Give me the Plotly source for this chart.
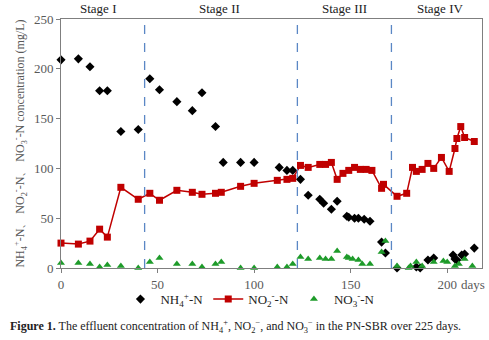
import plotly.graph_objects as go

# Effluent nitrogen species in the PN-SBR (days, mg/L)
nh4_days = [0, 9, 15, 20, 24, 31, 40, 46, 51, 60, 68, 73, 80, 84, 93, 100,
            113, 117, 120, 124, 128, 134, 136, 140, 143, 148, 149, 152, 154, 157, 160,
            166, 168, 174, 184, 186, 190, 193, 203, 204, 205, 207.5, 209, 214]
nh4_vals = [209, 210, 202, 178, 178, 137, 139, 190, 179, 167, 158, 176, 142, 106, 106, 106,
            101, 98, 98, 89, 73, 69, 65, 59, 67, 52, 51, 50, 50, 49, 47,
            26, 15, 0, 1, 0, 8, 10, 13, 9, 8, 13, 14, 20]

no2_days = [0, 9, 15, 20, 24, 31, 40, 46, 51, 60, 68, 73, 80, 83, 93, 100,
            112, 117, 120, 124, 128, 134, 137, 140, 143, 146, 149, 152, 155, 158, 161,
            166, 167, 174, 179, 182, 184, 187, 190, 193, 197, 201, 204, 205, 207, 209, 214]
no2_vals = [25, 24, 27, 39, 31, 81, 69, 75, 68, 78, 76, 74, 75, 76, 82, 85,
            88, 89, 90, 103, 101, 104, 104, 106, 89, 95, 98, 101, 99, 99, 98,
            80, 84, 72, 75, 101, 97, 99, 105, 100, 111, 97, 120, 130, 142, 131, 127]

no3_days = [0, 9, 15, 20, 24, 31, 40, 46, 51, 60, 68, 73, 80, 83, 93, 100,
            112, 117, 120, 124, 128, 134, 137, 140, 143, 148, 149, 151, 154, 156, 160,
            166, 168, 174, 180, 181, 184, 187, 193, 198, 200, 204, 206, 209, 213]
no3_vals = [5, 5, 4, 1, 3, 2, 0, 6, 10, 4, 4, 1, 4, 6, 0, 0,
            1, 1, 4, 11, 9, 10, 9, 9, 17, 11, 10, 9, 8, 4, 4,
            16, 27, 2, 0, 2, 6, 2, 6, 7, 6, 2, 4, 9, 2]

stage_bounds = [43.3, 122.4, 171.1]
stage_names = ["Stage I", "Stage II", "Stage III", "Stage IV"]
stage_centers = [19, 82, 147, 196]

x_ticks = [0, 50, 100, 150, 200]
y_ticks = [0, 50, 100, 150, 200, 250]

SERIF = "Liberation Serif"
GREY = "#595959"

fig = go.Figure()

fig.add_trace(go.Scatter(
    x=nh4_days, y=nh4_vals, mode="markers", name="NH<sub>4</sub><sup>+</sup>-N",
    marker=dict(symbol="diamond", size=7, color="black"),
    cliponaxis=False,
))
fig.add_trace(go.Scatter(
    x=no2_days, y=no2_vals, mode="lines+markers", name="NO<sub>2</sub><sup>-</sup>-N",
    line=dict(color="#C00000", width=1.5),
    marker=dict(symbol="square", size=7, color="#C00000"),
    cliponaxis=False,
))
fig.add_trace(go.Scatter(
    x=no3_days, y=no3_vals, mode="markers", name="NO<sub>3</sub><sup>-</sup>-N",
    marker=dict(symbol="triangle-up", size=7, color="#1E9B2A"),
    cliponaxis=False,
))

for xb in stage_bounds:
    fig.add_shape(type="line", x0=xb, x1=xb, y0=0, y1=1, xref="x", yref="paper",
                  line=dict(color="#5B87C5", width=1.3, dash="dash"))

for name, xc in zip(stage_names, stage_centers):
    fig.add_annotation(x=xc, y=1.0, xref="x", yref="paper", yanchor="bottom",
                       text=name, showarrow=False, yshift=1,
                       font=dict(family=SERIF, size=13, color="#222222"))

fig.add_annotation(x=213.5, y=0, xref="x", yref="paper", yanchor="top",
                   text="days", showarrow=False, yshift=-7,
                   font=dict(family=SERIF, size=13, color=GREY))

fig.add_annotation(
    x=-0.126, y=-0.235, xref="paper", yref="paper", xanchor="left", yanchor="middle",
    text="<b>Figure 1.</b> The effluent concentration of NH<sub>4</sub><sup>+</sup>, "
         "NO<sub>2</sub><sup>\u2212</sup>, and NO<sub>3</sub><sup>\u2212</sup> "
         "in the PN-SBR over 225 days.",
    showarrow=False, font=dict(family=SERIF, size=12, color="#222222"),
)

fig.update_layout(
    width=489, height=340,
    margin=dict(l=61, r=7, t=19, b=72),
    paper_bgcolor="white", plot_bgcolor="white",
    font=dict(family=SERIF, size=13, color=GREY),
    showlegend=True,
    legend=dict(orientation="h", x=0.45, xanchor="center", y=-0.125, yanchor="middle",
                font=dict(family=SERIF, size=13, color="#222222"),
                itemwidth=30, tracegroupgap=0, bgcolor="rgba(0,0,0,0)"),
    xaxis=dict(range=[0, 218], tickvals=[t for t in x_ticks],
               ticktext=[str(t) for t in x_ticks],
               showgrid=False, zeroline=False, showline=True, linecolor="#7F7F7F",
               linewidth=1, mirror=True, ticks="outside", ticklen=4, tickcolor="#7F7F7F",
               tickfont=dict(family=SERIF, size=13, color=GREY)),
    yaxis=dict(range=[0, 250], tickvals=y_ticks,
               showgrid=False, zeroline=False, showline=True, linecolor="#7F7F7F",
               linewidth=1, mirror=True, ticks="outside", ticklen=4, tickcolor="#7F7F7F",
               tickfont=dict(family=SERIF, size=13, color=GREY),
               title=dict(text="NH<sub>4</sub><sup>+</sup>-N\u3001 NO<sub>2</sub><sup>-</sup>-N\u3001 "
                               "NO<sub>3</sub><sup>-</sup>-N concentration (mg/L)",
                          font=dict(family=SERIF, size=12, color=GREY), standoff=6)),
)

fig.write_html("out.html")
